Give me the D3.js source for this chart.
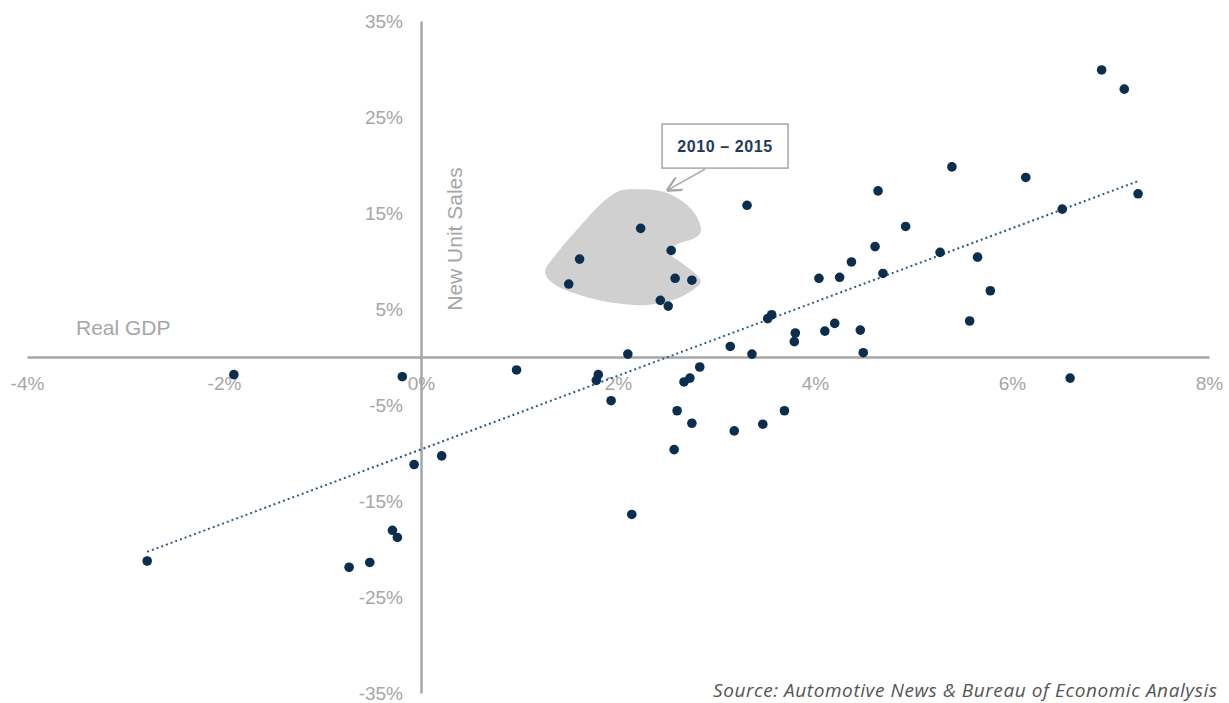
<!DOCTYPE html>
<html>
<head>
<meta charset="utf-8">
<script src="https://cdn.jsdelivr.net/npm/d3@7"></script>
<style>
  body { margin: 0; background: #fff; }
  .axis text { font-family: 'Liberation Sans', Arial, sans-serif; font-size: 19px; fill: #a6a6a6; }
  .axis path { stroke: #a6a6a6; stroke-width: 2.5; }
</style>
</head>
<body>
<div class="scatter-plot-container"></div>
<script>
// Data: real GDP growth (%) vs new unit sales growth (%)
const gdpGrowth = [
  2.23, 1.61, 1.50, 2.54, 2.58, 2.75, 2.43, 2.51,
  3.31, 4.04, 4.25, 4.37, 3.52, 3.56, 3.80, 3.79, 4.10, 4.20, 3.14, 3.36, 2.10,
  6.91, 7.14, 5.39, 6.14, 4.64, 7.28, 6.51, 4.92, 4.61, 5.27, 5.65, 4.69, 5.78, 5.57, 4.46, 4.49, 6.59,
  -1.90, -0.19, -2.78, -0.73, -0.52, -0.29, -0.24, -0.07, 0.21,
  0.97, 1.80, 1.78, 1.93, 2.83, 2.67, 2.73, 2.60, 2.75, 2.57, 2.14, 3.18, 3.47, 3.69
];
const salesGrowth = [
  13.4, 10.2, 7.6, 11.1, 8.2, 8.0, 5.9, 5.3,
  15.8, 8.2, 8.3, 9.9, 4.0, 4.4, 2.5, 1.6, 2.7, 3.5, 1.1, 0.3, 0.3,
  29.9, 27.9, 19.8, 18.7, 17.3, 17.0, 15.4, 13.6, 11.5, 10.9, 10.4, 8.7, 6.9, 3.75, 2.8, 0.45, -2.2,
  -1.84, -2.05, -21.25, -21.9, -21.4, -18.05, -18.8, -11.2, -10.3,
  -1.35, -1.84, -2.43, -4.55, -1.04, -2.6, -2.2, -5.6, -6.9, -9.65, -16.4, -7.7, -7.0, -5.6
];
const xTicks = [-4, -2, 0, 2, 4, 6, 8];
const yTicks = [35, 25, 15, 5, -5, -15, -25, -35];

// 2010-2015 highlight region (data units)
const blobX = [1.26, 1.38, 1.61, 1.85, 2.02, 2.22, 2.46, 2.66, 2.80, 2.84, 2.78, 2.60, 2.51, 2.64, 2.80, 2.84, 2.76, 2.56, 2.29, 1.99, 1.61, 1.34];
const blobY = [8.89, 10.8, 13.57, 16.18, 17.32, 17.47, 17.22, 16.18, 14.61, 13.05, 12.4, 11.75, 10.95, 9.85, 8.54, 7.84, 6.98, 5.94, 5.42, 5.59, 6.46, 7.68];

const points = gdpGrowth.map((d, i) => ({ gdp: d, sales: salesGrowth[i] }));

// least squares trend
function trend(data) {
    const mx = d3.mean(data, d => d.gdp);
    const my = d3.mean(data, d => d.sales);
    const slope = d3.sum(data, d => (d.gdp - mx) * (d.sales - my)) / d3.sum(data, d => (d.gdp - mx) ** 2);
    const ext = d3.extent(data, d => d.gdp);
    return ext.map(x => ({ gdp: x, sales: my + slope * (x - mx) }));
}

const svg_width = 1229;
const svg_height = 703;

const svg = d3.select('.scatter-plot-container').append('svg')
    .attr('width', svg_width).attr('height', svg_height);

const xScale = d3.scaleLinear().domain([-4, 8]).range([27, 1209]);
const yScale = d3.scaleLinear().domain([-35, 35]).range([693, 21]);

//axes
const xAxis = d3.axisBottom(xScale).tickValues(xTicks).tickFormat(d => d + '%')
    .tickSize(0).tickPadding(20);
svg.append('g').attr('class', 'x axis')
    .attr('transform', `translate(0,${yScale(0)})`)
    .call(xAxis);

const yAxis = d3.axisLeft(yScale).tickValues(yTicks).tickFormat(d => d + '%')
    .tickSize(0).tickPadding(18);
svg.append('g').attr('class', 'y axis')
    .attr('transform', `translate(${xScale(0)},0)`)
    .call(yAxis);

//axis titles
svg.append('text').text('Real GDP')
    .attr('x', 76).attr('y', 335)
    .style('font-family', "'Liberation Sans', Arial, sans-serif")
    .style('font-size', '21px').style('fill', '#a6a6a6');
svg.append('text').text('New Unit Sales')
    .attr('transform', `translate(462,239) rotate(-90)`)
    .attr('text-anchor', 'middle')
    .style('font-family', "'Liberation Sans', Arial, sans-serif")
    .style('font-size', '21px').style('fill', '#a6a6a6');

//highlight blob
const blobLine = d3.line()
    .x(d => xScale(d[0])).y(d => yScale(d[1]))
    .curve(d3.curveCatmullRomClosed.alpha(0.5));
svg.append('path')
    .attr('d', blobLine(blobX.map((d, i) => [d, blobY[i]])))
    .style('fill', '#d0d0d0');

//callout
const calloutX = 3.087, calloutY = 21.97;
svg.append('defs').append('marker')
    .attr('id', 'arrow').attr('viewBox', '0 0 10 10')
    .attr('refX', 9).attr('refY', 5)
    .attr('markerWidth', 10).attr('markerHeight', 10)
    .attr('orient', 'auto')
    .append('path').attr('d', 'M0,0 L10,5 L0,10')
    .style('fill', 'none').style('stroke', '#a6a6a6').style('stroke-width', 1.5);
svg.append('line')
    .attr('x1', xScale(2.883)).attr('y1', yScale(19.58))
    .attr('x2', xScale(2.508)).attr('y2', yScale(17.4))
    .style('stroke', '#a6a6a6').style('stroke-width', 1.5)
    .attr('marker-end', 'url(#arrow)');
svg.append('rect')
    .attr('x', xScale(calloutX) - 63).attr('y', yScale(calloutY) - 22)
    .attr('width', 126).attr('height', 44)
    .style('fill', '#fff').style('stroke', '#a6a6a6').style('stroke-width', 1.5);
svg.append('text').text('2010 – 2015')
    .attr('x', xScale(calloutX)).attr('y', yScale(calloutY) + 6)
    .attr('text-anchor', 'middle')
    .style('font-family', "'Liberation Sans', Arial, sans-serif")
    .style('font-size', '16px').style('font-weight', 'bold')
    .style('letter-spacing', '0.6px')
    .style('fill', '#1f3a5a');

//trend line
svg.append('path')
    .attr('d', d3.line().x(d => xScale(d.gdp)).y(d => yScale(d.sales))(trend(points)))
    .style('fill', 'none').style('stroke', '#2e5a80')
    .style('stroke-width', 2).style('stroke-dasharray', '2,3');

//scatter
svg.selectAll('.scatter').data(points).enter()
    .append('circle')
    .attr('class', 'scatter')
    .attr('cx', d => xScale(d.gdp))
    .attr('cy', d => yScale(d.sales))
    .attr('r', 4.8)
    .style('fill', '#0b2e4f');

//source
svg.append('text').text('Source: Automotive News & Bureau of Economic Analysis')
    .attr('x', 713).attr('y', 697)
    .attr('textLength', 504).attr('lengthAdjust', 'spacing')
    .style('font-family', "'Open Sans', sans-serif")
    .style('font-size', '19px').style('font-style', 'italic')
    .style('fill', '#555');
</script>
</body>
</html>
